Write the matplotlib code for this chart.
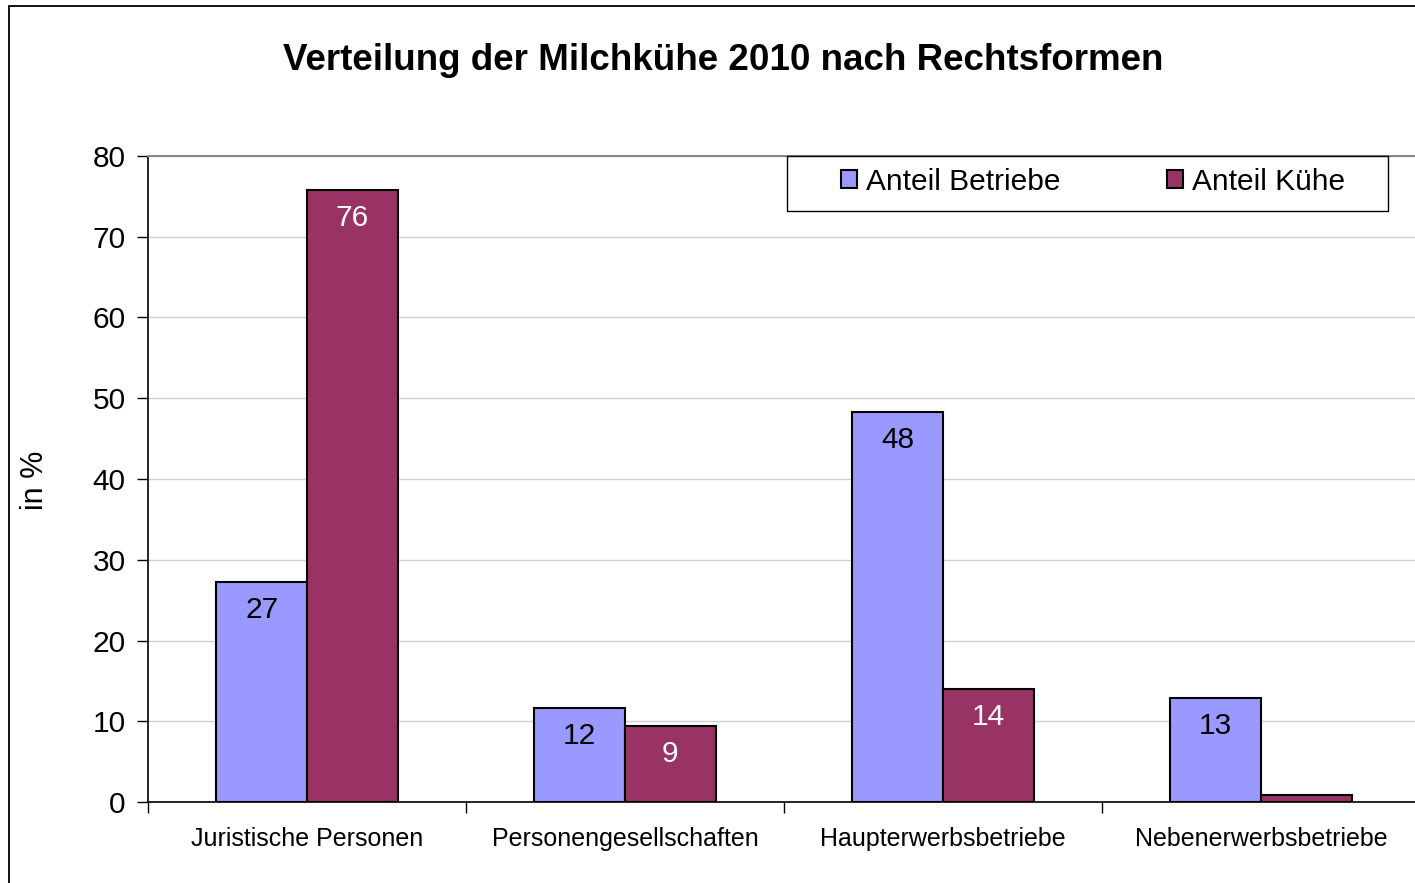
import matplotlib
matplotlib.use("Agg")
import matplotlib.pyplot as plt
import numpy as np

plt.rcParams['font.family'] = ['Liberation Sans', 'DejaVu Sans']

# Daten
kategorien = ["Juristische Personen", "Personengesellschaften",
              "Haupterwerbsbetriebe", "Nebenerwerbsbetriebe"]
anteil_betriebe = [27.2, 11.7, 48.3, 12.9]
anteil_kuehe = [75.8, 9.4, 14.0, 0.9]
labels_betriebe = ["27", "12", "48", "13"]
labels_kuehe = ["76", "9", "14", ""]

W, H = 1415, 883
fig = plt.figure(figsize=(W / 100, H / 100), dpi=100)

# Rahmen um das Diagramm
fig.patches.append(plt.Rectangle((9 / W, -0.05), 1.1, 1 - 6 / H + 0.05,
                                 transform=fig.transFigure, fill=False,
                                 edgecolor='black', linewidth=1.3))

ax = fig.add_axes([148 / W, 1 - 802 / H, (1420 - 148) / W, (802 - 156) / H])

x = np.arange(len(kategorien))
bw = 0.285
b1 = ax.bar(x - bw / 2, anteil_betriebe, bw, color='#9999FF', edgecolor='black',
            linewidth=1.5, label='Anteil Betriebe', zorder=3)
b2 = ax.bar(x + bw / 2, anteil_kuehe, bw, color='#993366', edgecolor='black',
            linewidth=1.5, label='Anteil Kühe', zorder=3)

for rect, lab in zip(b1, labels_betriebe):
    ax.annotate(lab, (rect.get_x() + rect.get_width() / 2, rect.get_height()),
                xytext=(0, -28), textcoords='offset pixels', ha='center', va='center',
                fontsize=21.5, color='black', zorder=4)
for rect, lab in zip(b2, labels_kuehe):
    ax.annotate(lab, (rect.get_x() + rect.get_width() / 2, rect.get_height()),
                xytext=(0, -28), textcoords='offset pixels', ha='center', va='center',
                fontsize=21.5, color='white', zorder=4)

ax.set_xlim(-0.5, 3.5)
ax.set_ylim(0, 80)
ax.set_yticks(range(0, 81, 10))
ax.yaxis.grid(True, color='#D0D0D0', linewidth=1, zorder=0)
ax.set_axisbelow(True)

ax.set_xticks(x)
ax.set_xticklabels(kategorien, fontsize=18)
ax.set_xticks(np.arange(-0.5, 3.5, 1), minor=True)
ax.tick_params(axis='x', which='major', length=0, pad=18)
ax.tick_params(axis='x', which='minor', length=8, width=1, direction='out')
ax.tick_params(axis='y', labelsize=21.5, length=8, width=1, pad=8)

ax.spines['top'].set_color('#888888')
ax.spines['top'].set_linewidth(1.5)
ax.spines['right'].set_visible(False)
ax.spines['left'].set_linewidth(1.2)
ax.spines['bottom'].set_linewidth(1.2)

fig.text(35 / W, 1 - 480 / H, "in %", rotation=90, fontsize=22,
         ha='center', va='center')
fig.text(723 / W, 1 - 61 / H, "Verteilung der Milchkühe 2010 nach Rechtsformen",
         fontsize=26.5, fontweight='bold', ha='center', va='center')

# Legende ohne eigenen Rahmen, Rahmen separat
ax.add_patch(plt.Rectangle((787 / W, 1 - 211 / H), (1388 - 787) / W, 55 / H,
                           transform=fig.transFigure, facecolor='white',
                           edgecolor='black', linewidth=1, zorder=5, clip_on=False))
leg = ax.legend(loc='center', ncol=2, bbox_to_anchor=(1093 / W, 1 - 182 / H),
                bbox_transform=fig.transFigure, fontsize=21.5, frameon=False,
                handlelength=0.55, handleheight=0.55, handletextpad=0.3,
                columnspacing=3.57, borderpad=0, borderaxespad=0)
leg.set_zorder(6)

fig.savefig("out.png", dpi=100)
